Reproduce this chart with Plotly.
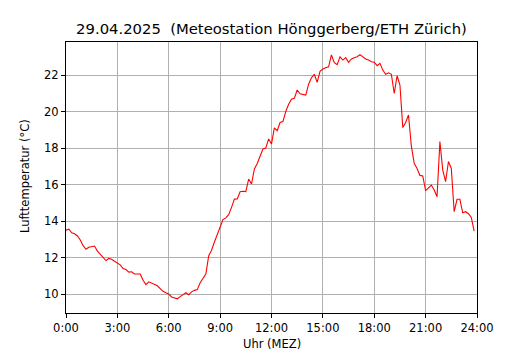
import plotly.graph_objects as go

# 10-minute values, 0:00 .. 23:50
temps = [
    13.50, 13.55, 13.35, 13.30, 13.18, 12.96,   # 0h
    12.65, 12.45, 12.56, 12.60, 12.63, 12.35,   # 1h
    12.18, 12.03, 11.83, 11.95, 11.90, 11.80,   # 2h
    11.70, 11.60, 11.40, 11.35, 11.20, 11.22,   # 3h
    11.10, 11.08, 11.10, 10.75, 10.52, 10.67,   # 4h
    10.60, 10.56, 10.45, 10.30, 10.15, 10.07,   # 5h
    10.00, 9.84, 9.80, 9.74, 9.86, 9.95,        # 6h
    10.07, 9.96, 10.12, 10.20, 10.24, 10.62,    # 7h
    10.85, 11.10, 12.10, 12.40, 12.85, 13.30,   # 8h
    13.70, 14.08, 14.17, 14.35, 14.75, 15.20,   # 9h
    15.21, 15.60, 15.63, 15.61, 16.30, 16.03,   # 10h
    16.85, 17.15, 17.55, 17.95, 18.00, 18.50,   # 11h
    18.22, 19.10, 18.95, 19.40, 19.45, 20.00,   # 12h
    20.40, 20.68, 20.72, 21.18, 20.97, 20.94,   # 13h
    20.90, 21.50, 21.85, 22.04, 21.60, 22.20,   # 14h
    22.33, 22.40, 22.45, 23.10, 22.68, 22.57,   # 15h
    23.00, 22.82, 22.95, 22.70, 22.88, 22.95,   # 16h
    23.00, 23.12, 23.00, 22.88, 22.82, 22.73,   # 17h
    22.70, 22.51, 22.64, 22.27, 22.04, 22.12,   # 18h
    22.04, 20.99, 21.96, 21.45, 19.12, 19.40,   # 19h
    19.81, 18.10, 17.16, 16.88, 16.50, 16.47,   # 20h
    15.66, 15.79, 15.97, 15.70, 15.33, 18.35,   # 21h
    16.79, 16.16, 17.26, 16.88, 14.51, 15.19,   # 22h
    15.19, 14.45, 14.51, 14.40, 14.20, 13.45,   # 23h
]
hours = [i / 6 for i in range(len(temps))]

xtick_vals = [0, 3, 6, 9, 12, 15, 18, 21, 24]
xtick_text = ["0:00", "3:00", "6:00", "9:00", "12:00", "15:00", "18:00", "21:00", "24:00"]
ytick_vals = [10, 12, 14, 16, 18, 20, 22]

title_text = "29.04.2025  (Meteostation Hönggerberg/ETH Zürich)"
xlabel = "Uhr (MEZ)"
ylabel = "Lufttemperatur (°C)"

FONT = "DejaVu Sans"

# the page places the figure 8px in from the top-left corner
OFF = 8
W, H = 530 - OFF, 350 - OFF
PL, PT, PW, PH = 66 - OFF, 42 - OFF, 411, 271

fig = go.Figure()
fig.add_trace(go.Scatter(x=hours, y=temps, mode="lines",
                         line=dict(color="#ff0000", width=1.1),
                         showlegend=False, hoverinfo="skip"))

fig.update_layout(
    width=W, height=H,
    margin=dict(l=PL, r=W - PL - PW, t=PT, b=H - PT - PH, autoexpand=False),
    paper_bgcolor="white", plot_bgcolor="white",
    font=dict(family=FONT, size=11.5, color="black"),
    title=dict(text=title_text, x=0.5, xref="paper", xanchor="center",
               y=1 - (29 - OFF) / H, yref="container", yanchor="middle",
               font=dict(family=FONT, size=14.8, color="black")),
)

fig.update_xaxes(
    range=[0, 24], tickvals=xtick_vals, ticktext=xtick_text,
    showgrid=True, gridcolor="#b0b0b0", gridwidth=1,
    showline=True, linecolor="black", linewidth=1, mirror=True,
    ticks="outside", ticklen=4, tickcolor="black", tickwidth=1,
    zeroline=False, tickfont=dict(family=FONT, size=11.5),
)
fig.update_yaxes(
    range=[8.96, 23.81], tickvals=ytick_vals,
    showgrid=True, gridcolor="#b0b0b0", gridwidth=1,
    showline=True, linecolor="black", linewidth=1, mirror=True,
    ticks="outside", ticklen=4, tickcolor="black", tickwidth=1,
    zeroline=False, tickfont=dict(family=FONT, size=11.5),
)

fig.add_annotation(text=xlabel, xref="paper", yref="paper",
                   x=0.5, y=-(344 - 313) / PH, xanchor="center", yanchor="middle",
                   showarrow=False, font=dict(family=FONT, size=11.5))
fig.add_annotation(text=ylabel, xref="paper", yref="paper",
                   x=-(66 - 25) / PW, y=(313 - 176) / PH,
                   xanchor="center", yanchor="middle", textangle=-90,
                   showarrow=False, font=dict(family=FONT, size=11.5))

fig.write_html("out.html")
